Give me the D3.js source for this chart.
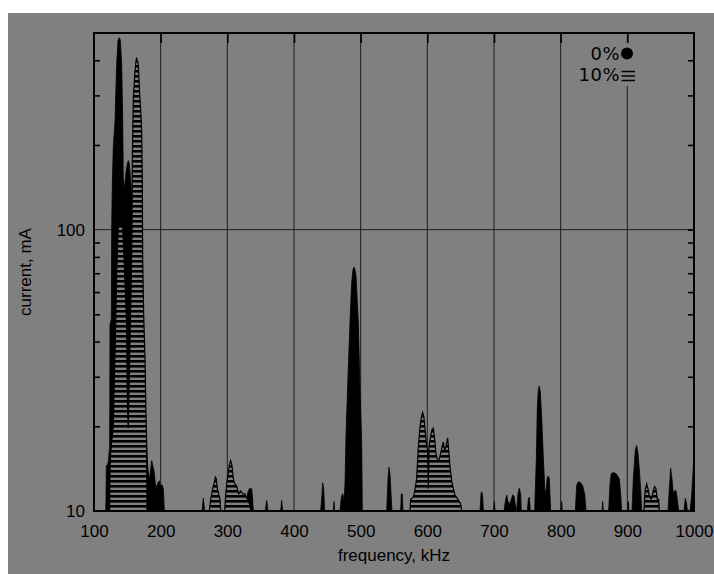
<!DOCTYPE html>
<html>
<head>
<meta charset="utf-8">
<script src="https://cdn.jsdelivr.net/npm/d3@7"></script>
<style>
body { margin: 0; background: #fff; }
svg { display: block; }
text { font-family: "Liberation Sans", Arial, sans-serif; fill: #000; }
</style>
</head>
<body>
<svg id="chart"></svg>
<script>
// frequency ticks (kHz) and current ticks (mA)
var xTicks = [100, 200, 300, 400, 500, 600, 700, 800, 900, 1000];
var yMajor = [10, 100];
var yMinor = [20, 30, 40, 50, 60, 70, 80, 90, 200, 300, 400];
var legendLabels = ["0%", "10%"];

// spectrum, 0% : [kHz, mA]
var zeroPct = [
	[100,10],[117.5,10],[118,11],[118.5,14.5],[120,14.5],[121.5,15],[123.5,17],[124,46],[126,48],[126.5,100],
	[127.5,146],[129,199],[131.5,243],[134,387],[136,470],[137.5,480],[138.5,480],[139.5,470],[141.5,390],
	[143,250],[144,153],[146,140],[148,160],[150,172],[151.5,176],[153,172],[155,150],[158,120],[161,60],
	[166,40],[172,30],[176,22],[179,17],[181,14],[183,13],[185,14],[186.5,15.1],[188,14.6],[190,13.9],
	[192,12.5],[193.5,12.1],[196,12.6],[198,12.8],[200,12.2],[202,12.4],[204,12],[205.5,10],
	[262,10],[264,11.1],[266,10],
	[328,10],[330,11.5],[333,12],[336.5,12],[338,11],[339,10],
	[357,10],[359,10.9],[361,10],
	[380,10],[381.5,10.9],[383,10],
	[440,10],[442,11.5],[443,12.6],[444.5,12],[446,10],
	[459,10],[460,10.8],[461,10],
	[469,10],[471,11.2],[473,11.5],[475,11],[476.5,12.4],[478,18.6],[480,25.8],[482,35],[484,47],
	[486.5,65],[488.5,72],[490,73.5],[491.5,72],[493,68.7],[495,55],[496.5,47],[499,27],[501.5,17.6],[502.5,10],
	[539,10],[541,13],[542.5,14.3],[544,13.5],[546,11],[547,10],
	[560,10],[561,11.5],[562.5,11.5],[563.5,10],
	[679,10],[680.5,11.5],[681.5,11.7],[683,11.3],[684,10],
	[699.5,10],[700.5,10.8],[701.5,10],
	[715,10],[717,10.8],[719,11.4],[721,10.8],[724,10.6],[726,11],[728,11.4],[730,11.3],[732,10.5],[734,10],
	[736,11.5],[738,12.05],[740,11.5],[741,10],
	[750,10],[751.5,11],[753,11.2],[754.5,10],
	[761,10],[762.5,13],[763.5,15.4],[765,23.4],[766.5,27],[768,27.8],[769.5,26.5],[771.5,21.6],[774,15.5],
	[776.5,11.6],[778.5,12],[780,13.2],[781.5,13.3],[783,13],[785,10],
	[800.5,10],[801.5,10.8],[802.5,10],
	[822,10],[824,12.3],[826,12.7],[830,12.6],[833,12.3],[836,11.5],[838,10],
	[862,10],[863,10.8],[864,10],
	[872,10],[874,12.5],[876,13.6],[880,13.7],[884,13.5],[888,13],[890,11.5],[891.5,10],
	[900.5,10],[901.5,10.8],[902.5,10],
	[907,10],[909,13],[912,16.5],[914,17.1],[916,16],[918,14],[920,12],[921.5,10],
	[927,10],[929,12.6],[931,11.5],[936,11.2],[939,11.5],[941.5,11.9],[943,11.5],[946,10.5],[948,10],
	[961,10],[963,12],[965,14.2],[967,13],[969,11.5],[971,11.8],[973,11.8],[975,11],[977,10],
	[985,10],[987,11.1],[989,10.6],[990,10],
	[994,10],[996,11],[998,13],[999.5,15.1],[1000,15]
];

// spectrum, 10% : [kHz, mA]
var tenPct = [
	[100,10],[123.5,10],[124,14],[125,16],[126.5,17.6],[129,20],[130,26],[132.5,45.6],[134,70],[136.5,103],
	[139,105],[141,104],[143,103],[146,70],[149,45.6],[150,26],[151,20.5],[151.5,19.7],[152,24],[153.5,35],
	[155.5,60],[157,100],[157.5,180],[159,295],[161.5,366],[163,400],[164,406],[165,400],[166.5,387],
	[168,320],[170,268],[171.5,224],[172.5,149],[173,79],[174.5,50],[176.5,35],[178,22],[179,17.6],[179.5,10],
	[273,10],[275,11],[278,12],[280,12.5],[282,13.2],[283.5,13],[285,12],[287,11.5],[289,11],[290,10],
	[296,10],[297,11],[299,12.5],[301,13.5],[303,14.6],[305,15.1],[307,14.5],[309,13],[311,12.5],[314,12.3],
	[317,11.5],[320,11.8],[323,11.5],[326,11.5],[330,11],[334,10.5],[335,10],
	[574,10],[575,11],[579,11.2],[581.5,11.9],[584,13.1],[586.5,16.9],[589,19.9],[591,21.5],[593,22.4],
	[595,21.5],[597,19],[599,16.9],[600.5,16.5],[601.5,12],[602.5,17],[605,18.5],[607,19.5],[609,19.7],
	[611,18],[613,16],[615,15.3],[618,15.3],[621,16.5],[624,17.6],[626,16.3],[628,17],[630.5,18.2],
	[632,16.5],[634,14.4],[636.5,12.8],[639,12],[641.5,11.4],[646,11],[650,10.6],[651.5,10],
	[925,10],[926,11.2],[927,12],[929,12.4],[931,12],[933,11.3],[936,11],[939,11.8],[941,12.2],[943,12],
	[945,11],[947,11],[948,10],
	[1000,10]
];

var cfg = {
	width: 714,
	height: 574,
	left: 94,
	right: 694,
	top: 33,
	bottom: 511,
	bg: "#808080",
	grid: "#1c1c1c"
};

var svg = d3.select("#chart")
	.attr("width", cfg.width)
	.attr("height", cfg.height);

var x = d3.scaleLinear()
	.domain([100, 1000])
	.range([cfg.left, cfg.right]);

var y = d3.scaleLog()
	.domain([10, 500])
	.range([cfg.bottom, cfg.top]);

// gray page, white margin top/left
svg.append("rect")
	.attr("x", 8).attr("y", 13)
	.attr("width", cfg.width - 8).attr("height", cfg.height - 13)
	.attr("fill", cfg.bg);

var defs = svg.append("defs");
var pat = defs.append("pattern")
	.attr("id", "stripes")
	.attr("patternUnits", "userSpaceOnUse")
	.attr("width", 10).attr("height", 5);
pat.append("rect").attr("width", 10).attr("height", 5).attr("fill", cfg.bg);
pat.append("rect").attr("y", 0).attr("width", 10).attr("height", 2.6).attr("fill", "#000");

defs.append("clipPath").attr("id", "plot")
	.append("rect")
	.attr("x", cfg.left).attr("y", cfg.top)
	.attr("width", cfg.right - cfg.left).attr("height", cfg.bottom - cfg.top);

// grid
var grid = svg.append("g").attr("stroke", cfg.grid).attr("stroke-width", 1);
grid.selectAll("line.v")
	.data(xTicks.slice(1, -1))
	.enter().append("line")
	.attr("x1", function(d) { return x(d); })
	.attr("x2", function(d) { return x(d); })
	.attr("y1", cfg.top).attr("y2", cfg.bottom);
grid.append("line")
	.attr("x1", cfg.left).attr("x2", cfg.right)
	.attr("y1", y(100)).attr("y2", y(100));

// spectra
var area = d3.area()
	.x(function(d) { return x(d[0]); })
	.y0(cfg.bottom)
	.y1(function(d) { return y(d[1]); });

var line = d3.line()
	.x(function(d) { return x(d[0]); })
	.y(function(d) { return y(d[1]); });

var plot = svg.append("g").attr("clip-path", "url(#plot)");

plot.append("path")
	.datum(zeroPct)
	.attr("d", area)
	.attr("fill", "#000")
	.attr("stroke", "#000")
	.attr("stroke-width", 0.8);

plot.append("path")
	.datum(tenPct)
	.attr("d", area)
	.attr("fill", "url(#stripes)");

plot.append("path")
	.datum(tenPct)
	.attr("d", line)
	.attr("fill", "none")
	.attr("stroke", "#000")
	.attr("stroke-width", 1.2);

// axes
function clean(g) {
	g.select(".domain").remove();
	g.selectAll(".tick line").attr("stroke", "#000").attr("stroke-width", 1.6);
	g.selectAll("text").attr("fill", "#000").style("font-size", "17px")
		.style("font-family", "'Liberation Sans', Arial, sans-serif");
}

svg.append("g")
	.attr("transform", "translate(0," + cfg.bottom + ")")
	.call(d3.axisBottom(x).tickValues(xTicks).tickSize(0).tickPadding(14).tickFormat(d3.format("d")))
	.call(clean);

svg.append("g")
	.attr("transform", "translate(0," + cfg.top + ")")
	.call(d3.axisTop(x).tickValues(xTicks.slice(1, -1)).tickSize(-10).tickFormat(""))
	.call(clean);

svg.append("g")
	.attr("transform", "translate(" + cfg.left + ",0)")
	.call(d3.axisLeft(y).tickValues(yMajor).tickSize(0).tickPadding(9).tickFormat(d3.format("d")))
	.call(clean);

svg.append("g")
	.attr("transform", "translate(" + cfg.left + ",0)")
	.call(d3.axisLeft(y).tickValues(yMinor).tickSize(-6).tickFormat(""))
	.call(clean);

svg.append("g")
	.attr("transform", "translate(" + cfg.right + ",0)")
	.call(d3.axisRight(y).tickValues(yMinor.concat([100])).tickSize(-6).tickFormat(""))
	.call(clean);

// frame
svg.append("rect")
	.attr("x", cfg.left).attr("y", cfg.top)
	.attr("width", cfg.right - cfg.left).attr("height", cfg.bottom - cfg.top)
	.attr("fill", "none")
	.attr("stroke", "#000")
	.attr("stroke-width", 2);

// legend
var lg = svg.append("g");
lg.append("rect")
	.attr("x", 570).attr("y", 43)
	.attr("width", 70).attr("height", 43)
	.attr("fill", cfg.bg);
lg.selectAll("text")
	.data(legendLabels)
	.enter().append("text")
	.attr("x", 620)
	.attr("y", function(d, i) { return 59.5 + i * 21.5; })
	.attr("text-anchor", "end")
	.style("font-family", "'DejaVu Sans', sans-serif")
	.style("font-size", "18px")
	.style("letter-spacing", "0.5px")
	.text(function(d) { return d; });
lg.append("circle")
	.attr("cx", 627).attr("cy", 53.5).attr("r", 6)
	.attr("fill", "#000");
lg.selectAll("line")
	.data([71.5, 76, 80.5])
	.enter().append("line")
	.attr("x1", 621.5).attr("x2", 635)
	.attr("y1", function(d) { return d; })
	.attr("y2", function(d) { return d; })
	.attr("stroke", "#000")
	.attr("stroke-width", 1.5);

// axis titles
svg.append("text")
	.attr("transform", "translate(31,272) rotate(-90)")
	.attr("text-anchor", "middle")
	.style("font-size", "17px")
	.text("current, mA");

svg.append("text")
	.attr("x", (cfg.left + cfg.right) / 2)
	.attr("y", 561)
	.attr("text-anchor", "middle")
	.style("font-size", "17px")
	.text("frequency, kHz");
</script>
</body>
</html>
